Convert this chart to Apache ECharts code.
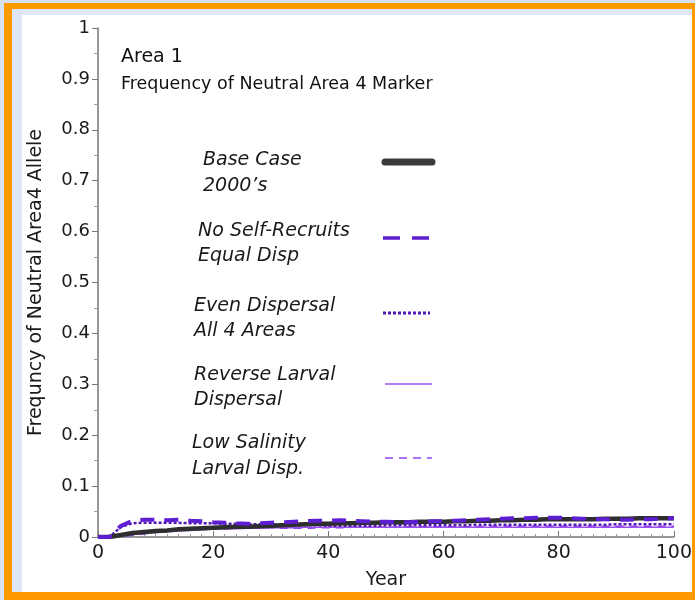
<!DOCTYPE html>
<html>
<head>
<meta charset="utf-8">
<script src="https://cdn.jsdelivr.net/npm/echarts@6/dist/echarts.min.js"></script>
<style>
html,body{margin:0;padding:0;background:#d8e1f3;}
#c{width:695px;height:600px;}
</style>
</head>
<body>
<div id="c"></div>
<script>
// ---- data ----
const years = [0,2,4,6,8,10,12,14,16,18,20,22,24,26,28,30,32,34,36,38,40,42,44,46,48,50,52,54,56,58,60,62,64,66,68,70,72,74,76,78,80,82,84,86,88,90,92,94,96,98,100];
const baseCase = [0,0,0.004,0.008,0.010,0.012,0.013,0.015,0.016,0.017,0.018,0.019,0.020,0.020,0.021,0.022,0.023,0.024,0.025,0.026,0.026,0.027,0.027,0.028,0.028,0.029,0.029,0.029,0.030,0.030,0.030,0.031,0.031,0.032,0.032,0.033,0.033,0.034,0.034,0.035,0.035,0.035,0.035,0.035,0.036,0.036,0.036,0.037,0.037,0.037,0.037];
const noSelfRecruits = [0,0,0.022,0.032,0.034,0.034,0.033,0.034,0.032,0.031,0.029,0.028,0.027,0.026,0.027,0.028,0.029,0.030,0.031,0.032,0.032,0.033,0.032,0.031,0.030,0.030,0.029,0.029,0.030,0.031,0.031,0.032,0.033,0.034,0.035,0.036,0.037,0.037,0.038,0.038,0.038,0.037,0.036,0.035,0.035,0.034,0.034,0.035,0.035,0.036,0.037];
const evenDispersal = [0,0,0.020,0.027,0.028,0.028,0.028,0.028,0.027,0.027,0.027,0.026,0.026,0.025,0.025,0.024,0.024,0.023,0.023,0.023,0.022,0.022,0.022,0.022,0.022,0.023,0.023,0.023,0.023,0.023,0.023,0.023,0.023,0.024,0.024,0.024,0.024,0.024,0.024,0.024,0.024,0.024,0.024,0.024,0.024,0.025,0.025,0.025,0.025,0.025,0.025];
const reverseLarval = [0,0,0.002,0.005,0.007,0.009,0.010,0.012,0.013,0.014,0.015,0.016,0.016,0.017,0.017,0.018,0.018,0.018,0.019,0.019,0.019,0.019,0.019,0.019,0.019,0.019,0.019,0.019,0.019,0.019,0.019,0.019,0.019,0.019,0.019,0.019,0.019,0.019,0.019,0.019,0.019,0.019,0.019,0.019,0.019,0.019,0.019,0.019,0.019,0.019,0.019];
const lowSalinity = [0,0,0.001,0.003,0.006,0.009,0.011,0.013,0.014,0.015,0.016,0.016,0.017,0.017,0.018,0.018,0.017,0.017,0.017,0.018,0.018,0.018,0.019,0.019,0.019,0.019,0.019,0.020,0.020,0.020,0.020,0.020,0.020,0.020,0.021,0.021,0.021,0.021,0.021,0.021,0.021,0.021,0.021,0.021,0.021,0.021,0.021,0.021,0.021,0.021,0.021];
const legendLabels = [
  ["Base Case","2000\u2019s"],
  ["No Self-Recruits","Equal Disp"],
  ["Even Dispersal","All 4 Areas"],
  ["Reverse Larval","Dispersal"],
  ["Low Salinity","Larval Disp."]
];

const pair = arr => years.map((y,i)=>[y,arr[i]]);
const FONT = '"DejaVu Sans", "Liberation Sans", Arial, sans-serif';
const chart = echarts.init(document.getElementById('c'), null, {renderer:'canvas'});

const ln = (x1,x2,y,w,color,dash,cap) => ({type:'line', z:10,
  shape:{x1:x1,y1:y,x2:x2,y2:y},
  style:{stroke:color, lineWidth:w, lineDash:dash||null, lineCap:cap||'butt'}});

const legendPos = [[203,162,188],[198,233,258],[194,308,333],[194,377,402],[192,445,471]];
const graphics = [
  {type:'rect', z:-10, shape:{x:0,y:0,width:695,height:600}, style:{fill:'#d8e1f3'}},
  {type:'rect', z:-9, shape:{x:4,y:3,width:691,height:597}, style:{fill:'#ff9900'}},
  {type:'rect', z:-8, shape:{x:12,y:9,width:680,height:583}, style:{fill:'#dfe6f5'}},
  {type:'rect', z:-7, shape:{x:22,y:15,width:670,height:577}, style:{fill:'#ffffff'}},
  {type:'text', left:121, top:48, z:10, style:{text:'Area 1', font:'19px '+FONT, fill:'#111'}},
  {type:'text', left:121, top:75, z:10, style:{text:'Frequency of Neutral Area 4 Marker', font:'17.5px '+FONT, fill:'#111'}}
];
legendLabels.forEach((l,i)=>{
  const p = legendPos[i];
  graphics.push({type:'text', left:p[0], top:p[1]-11, z:10, style:{text:l[0], font:'italic 19px '+FONT, fill:'#1a1a1a'}});
  graphics.push({type:'text', left:p[0], top:p[2]-11, z:10, style:{text:l[1], font:'italic 19px '+FONT, fill:'#1a1a1a'}});
});
graphics.push(ln(385,432,162,7,'#3a3a3a',null,'round'));
graphics.push(ln(383,430,238,3.5,'#5e1fd2',[17,12]));
graphics.push(ln(383,430,313,3,'#5517b8',[3,2]));
graphics.push(ln(385,432,384,1.5,'#9a4ff2'));
graphics.push(ln(385,432,458,1.5,'#8f45ee',[8,6]));

chart.setOption({
  animation:false,
  backgroundColor:'transparent',
  graphic: graphics,
  grid:{left:98,right:20,top:28,bottom:63},
  xAxis:{
    type:'value', min:0, max:100, interval:20,
    name:'Year', nameLocation:'middle', nameGap:34,
    nameTextStyle:{fontFamily:FONT, fontSize:19, color:'#1a1a1a'},
    axisLine:{lineStyle:{color:'#777', width:1.5}},
    axisTick:{inside:true, length:6, lineStyle:{color:'#777'}},
    minorTick:{show:true, splitNumber:10, length:3, lineStyle:{color:'#999'}},
    axisLabel:{fontFamily:FONT, fontSize:19, color:'#1a1a1a', margin:7},
    splitLine:{show:false}
  },
  yAxis:{
    type:'value', min:0, max:1, interval:0.1,
    name:'Frequncy of Neutral Area4 Allele', nameLocation:'middle', nameGap:52,
    nameTextStyle:{fontFamily:FONT, fontSize:19, color:'#1a1a1a'},
    axisLine:{show:true, lineStyle:{color:'#777', width:1.5}},
    axisTick:{show:true, inside:false, length:6, lineStyle:{color:'#777'}},
    minorTick:{show:true, splitNumber:2, length:4, lineStyle:{color:'#999'}},
    axisLabel:{fontFamily:FONT, fontSize:18, color:'#1a1a1a', margin:8},
    splitLine:{show:false}
  },
  series:[
    {name:'Low Salinity', type:'line', data:pair(lowSalinity), showSymbol:false, z:2,
      lineStyle:{color:'#8f45ee', width:1.5, type:[8,6]}},
    {name:'Reverse Larval', type:'line', data:pair(reverseLarval), showSymbol:false, z:3,
      lineStyle:{color:'#9a4ff2', width:1.5}},
    {name:'Even Dispersal', type:'line', data:pair(evenDispersal), showSymbol:false, z:4,
      lineStyle:{color:'#5517b8', width:2.5, type:[3,2]}},
    {name:'Base Case', type:'line', data:pair(baseCase), showSymbol:false, z:5,
      lineStyle:{color:'#2e2e2e', width:4.5}},
    {name:'No Self-Recruits', type:'line', data:pair(noSelfRecruits), showSymbol:false, z:6,
      lineStyle:{color:'#5e1fd2', width:4, type:[14,10]}}
  ]
});
</script>
</body>
</html>
